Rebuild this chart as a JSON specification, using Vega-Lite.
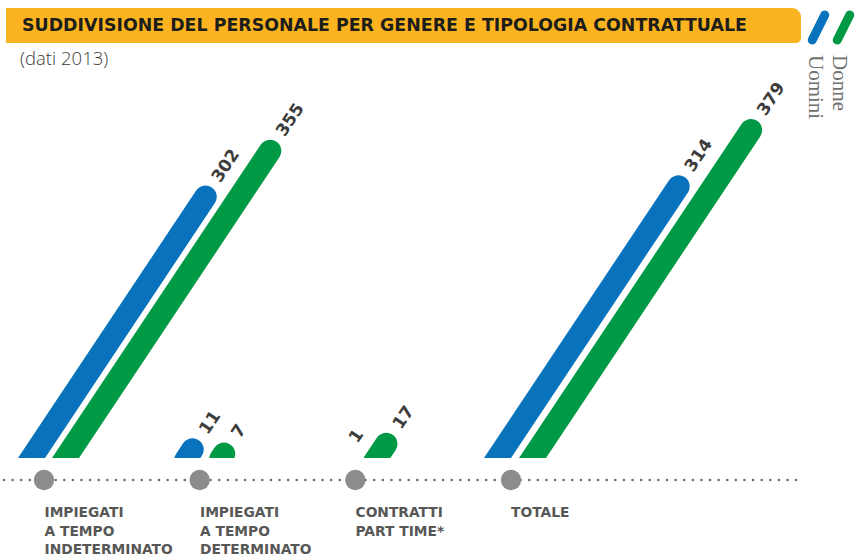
{
  "$schema": "https://vega.github.io/schema/vega-lite/v6.json",
  "width": 862,
  "height": 458,
  "autosize": "none",
  "padding": {"left": 0, "right": 0, "top": 0, "bottom": 102},
  "background": "white",
  "config": {"view": {"stroke": null}},
  "data": {"values": [
    {"categoria": "IMPIEGATI\nA TEMPO\nINDETERMINATO", "genere": "Uomini", "valore": 302},
    {"categoria": "IMPIEGATI\nA TEMPO\nINDETERMINATO", "genere": "Donne", "valore": 355},
    {"categoria": "IMPIEGATI\nA TEMPO\nDETERMINATO", "genere": "Uomini", "valore": 11},
    {"categoria": "IMPIEGATI\nA TEMPO\nDETERMINATO", "genere": "Donne", "valore": 7},
    {"categoria": "CONTRATTI\nPART TIME*", "genere": "Uomini", "valore": 1},
    {"categoria": "CONTRATTI\nPART TIME*", "genere": "Donne", "valore": 17},
    {"categoria": "TOTALE", "genere": "Uomini", "valore": 314},
    {"categoria": "TOTALE", "genere": "Donne", "valore": 379}
  ]},
  "resolve": {"scale": {"x": "independent"}},
  "layer": [
    {
      "data": {"values": [{}]},
      "mark": {"type": "rect", "color": "#FBB41F", "cornerRadiusTopRight": 9, "cornerRadiusBottomRight": 5},
      "encoding": {
        "x": {"datum": 6, "type": "quantitative", "scale": {"domain": [0, 862], "nice": false, "zero": false}, "axis": null},
        "x2": {"datum": 801},
        "y": {"datum": 450, "type": "quantitative", "scale": {"domain": [0, 458], "nice": false, "zero": false}, "axis": null},
        "y2": {"datum": 415}
      }
    },
    {
      "data": {"values": [{"t": "SUDDIVISIONE DEL PERSONALE PER GENERE E TIPOLOGIA CONTRATTUALE"}]},
      "mark": {"type": "text", "align": "left", "baseline": "middle", "font": "DejaVu Sans", "fontWeight": "bold", "fontSize": 17.4, "color": "#1d1d1b"},
      "encoding": {
        "text": {"field": "t"},
        "x": {"datum": 22, "type": "quantitative", "scale": {"domain": [0, 862], "nice": false, "zero": false}, "axis": null},
        "y": {"datum": 432, "type": "quantitative", "scale": {"domain": [0, 458], "nice": false, "zero": false}, "axis": null}
      }
    },
    {
      "data": {"values": [{"t": "(dati 2013)"}]},
      "mark": {"type": "text", "align": "left", "baseline": "middle", "font": "Open Sans", "fontWeight": 300, "fontSize": 18.5, "color": "#3c3c3b"},
      "encoding": {
        "text": {"field": "t"},
        "x": {"datum": 20, "type": "quantitative", "scale": {"domain": [0, 862], "nice": false, "zero": false}, "axis": null},
        "y": {"datum": 399, "type": "quantitative", "scale": {"domain": [0, 458], "nice": false, "zero": false}, "axis": null}
      }
    },
    {
      "transform": [{"filter": "datum.categoria == 'TOTALE'"}],
      "mark": {"type": "point", "shape": "M-0.5,1L0.5,-1", "filled": false, "strokeWidth": 9, "strokeCap": "round", "opacity": 1, "size": 625},
      "encoding": {
        "x": {"field": "genere", "type": "nominal", "scale": {"type": "point", "domain": ["Uomini", "Donne"], "range": [818.5, 843.5], "padding": 0}, "axis": null},
        "y": {"datum": 430.5, "type": "quantitative", "scale": {"domain": [0, 458], "nice": false, "zero": false}, "axis": null},
        "color": {"field": "genere", "type": "nominal", "scale": {"domain": ["Uomini", "Donne"], "range": ["#0873BC", "#009A47"]}, "legend": null}
      }
    },
    {
      "transform": [{"filter": "datum.categoria == 'TOTALE'"}],
      "mark": {"type": "text", "angle": 90, "align": "left", "baseline": "middle", "font": "Liberation Serif", "fontSize": 21, "color": "#6f6f6e"},
      "encoding": {
        "text": {"field": "genere"},
        "x": {"field": "genere", "type": "nominal", "scale": {"type": "point", "domain": ["Uomini", "Donne"], "range": [815, 839], "padding": 0}, "axis": null},
        "y": {"datum": 403, "type": "quantitative", "scale": {"domain": [0, 458], "nice": false, "zero": false}, "axis": null}
      }
    },
    {
      "transform": [{"filter": "datum.genere == 'Uomini' && datum.valore > 1"}],
      "mark": {"type": "point", "shape": "M-1.386,2.081L5.544,-8.322", "filled": false, "strokeWidth": 22.5, "strokeCap": "round", "opacity": 1, "clip": true},
      "encoding": {
        "x": {"field": "categoria", "type": "nominal", "scale": {"type": "point", "domain": ["IMPIEGATI\nA TEMPO\nINDETERMINATO", "IMPIEGATI\nA TEMPO\nDETERMINATO", "CONTRATTI\nPART TIME*", "TOTALE"], "range": [31.5, 497.5], "padding": 0}, "axis": null},
        "y": {"datum": 0, "type": "quantitative", "scale": {"domain": [0, 458], "nice": false, "zero": false}, "axis": null},
        "size": {"field": "valore", "type": "quantitative", "scale": {"type": "pow", "exponent": 2, "domain": [0, 379], "range": [-1.08, 6207], "zero": false}, "legend": null},
        "color": {"field": "genere", "type": "nominal", "scale": {"domain": ["Uomini", "Donne"], "range": ["#0873BC", "#009A47"]}, "legend": null}
      }
    },
    {
      "transform": [{"filter": "datum.genere == 'Donne' && datum.valore > 1"}],
      "mark": {"type": "point", "shape": "M-1.386,2.081L5.544,-8.322", "filled": false, "strokeWidth": 22.5, "strokeCap": "round", "opacity": 1, "clip": true},
      "encoding": {
        "x": {"field": "categoria", "type": "nominal", "scale": {"type": "point", "domain": ["IMPIEGATI\nA TEMPO\nINDETERMINATO", "IMPIEGATI\nA TEMPO\nDETERMINATO", "CONTRATTI\nPART TIME*", "TOTALE"], "range": [65.5, 532.5], "padding": 0}, "axis": null},
        "y": {"datum": 0, "type": "quantitative", "scale": {"domain": [0, 458], "nice": false, "zero": false}, "axis": null},
        "size": {"field": "valore", "type": "quantitative", "scale": {"type": "pow", "exponent": 2, "domain": [0, 379], "range": [-1.08, 6207], "zero": false}, "legend": null},
        "color": {"field": "genere", "type": "nominal", "scale": {"domain": ["Uomini", "Donne"], "range": ["#0873BC", "#009A47"]}, "legend": null}
      }
    },
    {
      "transform": [{"filter": "datum.genere == 'Uomini'"}],
      "mark": {"type": "text", "angle": -56.34, "theta": 0.5873, "align": "left", "baseline": "middle", "dx": 19, "font": "DejaVu Sans", "fontWeight": "bold", "fontSize": 17, "color": "#3c3c3b"},
      "encoding": {
        "text": {"field": "valore", "type": "quantitative"},
        "x": {"field": "categoria", "type": "nominal", "scale": {"type": "point", "domain": ["IMPIEGATI\nA TEMPO\nINDETERMINATO", "IMPIEGATI\nA TEMPO\nDETERMINATO", "CONTRATTI\nPART TIME*", "TOTALE"], "range": [31.5, 497.5], "padding": 0}, "axis": null},
        "y": {"datum": 0, "type": "quantitative", "scale": {"domain": [0, 458], "nice": false, "zero": false}, "axis": null},
        "radius": {"field": "valore", "type": "quantitative", "scale": {"type": "linear", "domain": [0, 379], "range": [0, 394.2], "zero": false}}
      }
    },
    {
      "transform": [{"filter": "datum.genere == 'Donne'"}],
      "mark": {"type": "text", "angle": -56.34, "theta": 0.5873, "align": "left", "baseline": "middle", "dx": 19, "font": "DejaVu Sans", "fontWeight": "bold", "fontSize": 17, "color": "#3c3c3b"},
      "encoding": {
        "text": {"field": "valore", "type": "quantitative"},
        "x": {"field": "categoria", "type": "nominal", "scale": {"type": "point", "domain": ["IMPIEGATI\nA TEMPO\nINDETERMINATO", "IMPIEGATI\nA TEMPO\nDETERMINATO", "CONTRATTI\nPART TIME*", "TOTALE"], "range": [65.5, 532.5], "padding": 0}, "axis": null},
        "y": {"datum": 0, "type": "quantitative", "scale": {"domain": [0, 458], "nice": false, "zero": false}, "axis": null},
        "radius": {"field": "valore", "type": "quantitative", "scale": {"type": "linear", "domain": [0, 379], "range": [0, 394.2], "zero": false}}
      }
    },
    {
      "data": {"values": [{}]},
      "mark": {"type": "rule", "strokeDash": [0.01, 8.6], "strokeCap": "round", "strokeWidth": 2.6, "color": "#6f6f6e"},
      "encoding": {
        "x": {"datum": 4, "type": "quantitative", "scale": {"domain": [0, 862], "nice": false, "zero": false}, "axis": null},
        "x2": {"datum": 801},
        "y": {"datum": -22, "type": "quantitative", "scale": {"domain": [0, 458], "nice": false, "zero": false}, "axis": null}
      }
    },
    {
      "transform": [{"filter": "datum.genere == 'Uomini'"}],
      "mark": {"type": "circle", "size": 415, "color": "#8c8c8c", "opacity": 1},
      "encoding": {
        "x": {"field": "categoria", "type": "nominal", "scale": {"type": "point", "domain": ["IMPIEGATI\nA TEMPO\nINDETERMINATO", "IMPIEGATI\nA TEMPO\nDETERMINATO", "CONTRATTI\nPART TIME*", "TOTALE"], "range": [44, 511], "padding": 0}, "axis": null},
        "y": {"datum": -22, "type": "quantitative", "scale": {"domain": [0, 458], "nice": false, "zero": false}, "axis": null}
      }
    },
    {
      "transform": [{"filter": "datum.genere == 'Uomini'"}],
      "mark": {"type": "text", "align": "left", "baseline": "top", "lineBreak": "\n", "lineHeight": 18.5, "font": "DejaVu Sans", "fontWeight": "bold", "fontSize": 13.8, "color": "#575756"},
      "encoding": {
        "text": {"field": "categoria"},
        "x": {"field": "categoria", "type": "nominal", "scale": {"type": "point", "domain": ["IMPIEGATI\nA TEMPO\nINDETERMINATO", "IMPIEGATI\nA TEMPO\nDETERMINATO", "CONTRATTI\nPART TIME*", "TOTALE"], "range": [44.5, 511], "padding": 0}, "axis": null},
        "y": {"datum": -48, "type": "quantitative", "scale": {"domain": [0, 458], "nice": false, "zero": false}, "axis": null}
      }
    }
  ]
}
